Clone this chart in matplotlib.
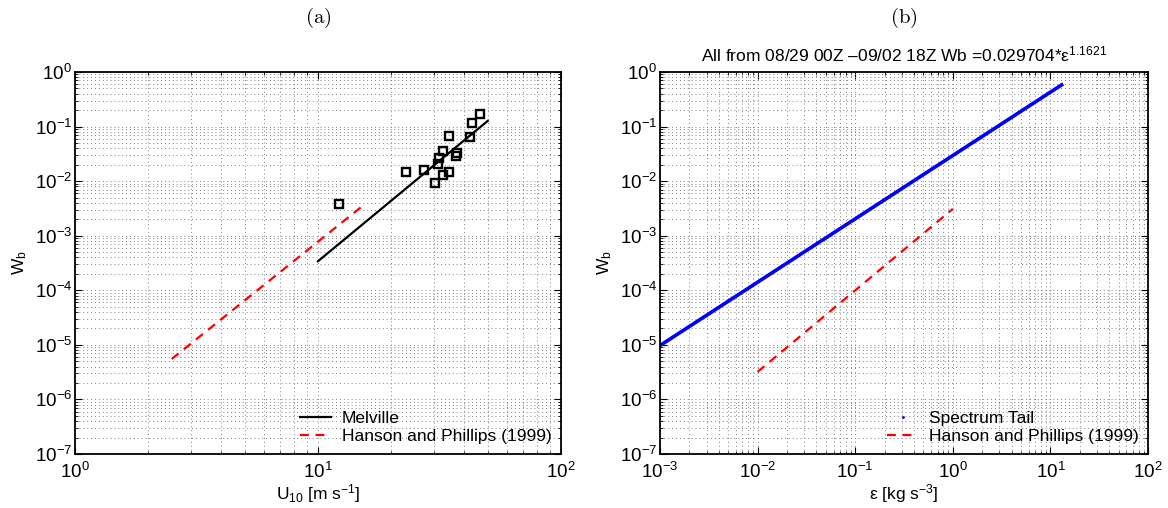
import matplotlib
matplotlib.use('Agg')
import matplotlib.pyplot as plt
from matplotlib.lines import Line2D

plt.rcParams['font.family'] = ['Liberation Sans', 'DejaVu Sans']
plt.rcParams['mathtext.fontset'] = 'custom'
plt.rcParams['mathtext.rm'] = 'Liberation Sans'
plt.rcParams['mathtext.it'] = 'Liberation Sans:italic'
plt.rcParams['mathtext.default'] = 'regular'

# (a) observations
u10_obs = [12.2, 23.0, 27.4, 30.3, 31.1, 31.4, 32.8, 32.8, 34.5, 34.5, 37.3, 37.1, 42.1, 43.0, 46.5]
wb_obs = [3.8e-3, 0.0147, 0.016, 9.4e-3, 0.0207, 0.027, 0.0357, 0.013, 0.0149, 0.068,
          0.0333, 0.0286, 0.0637, 0.115, 0.170]
# Melville fit line (endpoints)
u10_melville = [10.0, 50.0]
wb_melville = [3.4e-4, 0.127]
# Hanson and Phillips (1999), panel a
u10_hp = [2.5, 15.0]
wb_hp_u = [5.5e-6, 3.3e-3]

# (b) spectrum tail fit and Hanson and Phillips
eps_tail = [1e-3, 13.0]
wb_tail = [9.7e-6, 0.58]
eps_hp = [0.01, 1.0]
wb_hp_eps = [3.2e-6, 3.1e-3]

fig = plt.figure(figsize=(11.68, 5.08), dpi=100)
ax1 = fig.add_axes([0.0642, 0.1063, 0.416, 0.752])
ax2 = fig.add_axes([0.565, 0.1063, 0.418, 0.752])


def style_axis(ax):
    ax.set_xscale('log')
    ax.set_yscale('log')
    ax.grid(True, which='both', linestyle=(0, (1, 3)), color='0.5', linewidth=0.7)
    ax.tick_params(which='both', direction='in', top=True, right=True, labelsize=13.5)
    ax.tick_params(axis='x', which='both', pad=6)
    ax.tick_params(axis='y', which='both', pad=2)
    ax.tick_params(which='major', length=5, width=0.8)
    ax.tick_params(which='minor', length=2.5, width=0.6)
    ax.set_ylim(1e-7, 1)
    ax.set_yticks([10.0 ** k for k in range(-7, 1)])
    for s in ax.spines.values():
        s.set_linewidth(1.3)


style_axis(ax1)
ax1.plot(u10_obs, wb_obs, 's', mfc='none', mec='black', mew=1.7, ms=5.5)
ax1.plot(u10_melville, wb_melville, '-', color='black', lw=1.6, label='Melville')
ax1.plot(u10_hp, wb_hp_u, '--', color='red', lw=1.6, dashes=(4, 3), label='Hanson and Phillips (1999)')
ax1.set_xlim(1, 100)
ax1.set_xlabel('U$_{10}$ [m s$^{-1}$]', fontsize=12.5, labelpad=0)
ax1.set_ylabel('W$_b$', fontsize=12.5, labelpad=4)
ax1.legend(loc='lower right', frameon=False, fontsize=12.5, handlelength=1.8, handletextpad=0.6,
           labelspacing=0.2, borderaxespad=0.15)
ax1.set_title(r'$\mathrm{(a)}$', fontsize=15, math_fontfamily='cm', pad=35)

style_axis(ax2)
ax2.plot(eps_tail, wb_tail, '-', color='blue', lw=2.6)
ax2.plot(eps_hp, wb_hp_eps, '--', color='red', lw=1.6, dashes=(4, 3))
ax2.set_xlim(1e-3, 100)
ax2.set_xlabel('\u03b5 [kg s$^{-3}$]', fontsize=12.5, labelpad=0)
ax2.set_ylabel('W$_b$', fontsize=12.5, labelpad=4)
handles = [Line2D([], [], marker='.', ms=2, ls='none', color='blue'),
           Line2D([], [], ls='--', color='red', lw=1.6, dashes=(4, 3))]
ax2.legend(handles, ['Spectrum Tail', 'Hanson and Phillips (1999)'], loc='lower right',
           frameon=False, fontsize=12.5, handlelength=1.8, handletextpad=0.6,
           labelspacing=0.2, borderaxespad=0.15)
ax2.text(0.5, 1.02, 'All from 08/29 00Z \u201309/02 18Z Wb =0.029704*\u03b5$^{1.1621}$',
         transform=ax2.transAxes, ha='center', va='bottom', fontsize=12.5)
ax2.set_title(r'$\mathrm{(b)}$', fontsize=15, math_fontfamily='cm', pad=35)

fig.savefig('out.png', dpi=100)
